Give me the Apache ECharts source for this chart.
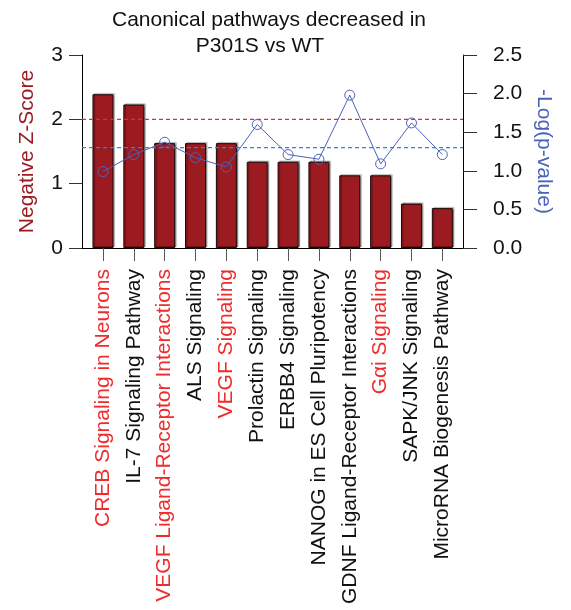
<!DOCTYPE html>
<html>
<head>
<meta charset="utf-8">
<script src="https://cdn.jsdelivr.net/npm/echarts@6/dist/echarts.min.js"></script>
<style>
  html, body { margin: 0; padding: 0; background: #fff; }
  #chart { width: 571px; height: 610px; }
</style>
</head>
<body>
<div id="chart"></div>
<script>
// Pathway names, in plotting order
const pathways = [
  'CREB Signaling in Neurons',
  'IL-7 Signaling Pathway',
  'VEGF Ligand-Receptor Interactions',
  'ALS Signaling',
  'VEGF Signaling',
  'Prolactin Signaling',
  'ERBB4 Signaling',
  'NANOG in ES Cell Pluripotency',
  'GDNF Ligand-Receptor Interactions',
  'G\u03b1i Signaling',
  'SAPK/JNK Signaling',
  'MicroRNA Biogenesis Pathway'
];
// Pathways highlighted in red on the axis
const highlighted = [
  'CREB Signaling in Neurons',
  'VEGF Ligand-Receptor Interactions',
  'VEGF Signaling',
  'G\u03b1i Signaling'
];
// Negative z-score (bars, left axis)
const zScores = [2.39, 2.23, 1.63, 1.63, 1.63, 1.34, 1.34, 1.34, 1.13, 1.13, 0.69, 0.62];
// -log(p-value) (line, right axis)
const logP = [0.99, 1.21, 1.37, 1.17, 1.05, 1.60, 1.21, 1.15, 1.98, 1.09, 1.62, 1.21];
// Reference thresholds
const zThreshold = 2;      // left axis
const pThreshold = 1.3;    // right axis, -log10(0.05)
// Axis ticks
const leftTicks = [0, 1, 2, 3];
const rightTicks = [0, 0.5, 1, 1.5, 2, 2.5];

const FONT = '"Liberation Sans", Arial, Helvetica, sans-serif';
const RED_LINE = '#f0282c';
const BLUE_LINE = '#1a8ce8';
const X_MIN = -0.68;
const X_MAX = 11.67;
const positions = pathways.map((_, i) => i);

const titleStyle = {
  fontFamily: FONT,
  fontSize: 21,
  fontWeight: 'normal',
  color: '#111'
};

// Horizontal dashed reference line spanning the whole plot
function thresholdSeries(value, axisIndex, color) {
  return {
    type: 'line',
    yAxisIndex: axisIndex,
    data: [[X_MIN, value], [X_MAX, value]],
    showSymbol: false,
    symbol: 'none',
    silent: true,
    lineStyle: { color: color, type: [4, 3], width: 1.4, opacity: 1 },
    z: 4
  };
}

const chart = echarts.init(document.getElementById('chart'), null, { renderer: 'canvas' });

chart.setOption({
  backgroundColor: '#ffffff',
  animation: false,
  title: [
    { text: 'Canonical pathways decreased in', left: 264, top: 5, textAlign: 'center', textStyle: titleStyle },
    { text: 'P301S vs WT', left: 255, top: 31, textAlign: 'center', textStyle: titleStyle }
  ],
  grid: { left: 82, right: 108, top: 55, bottom: 362 },
  xAxis: {
    type: 'value',
    min: X_MIN,
    max: X_MAX,
    splitLine: { show: false },
    axisLine: { show: true, onZero: false, lineStyle: { color: '#000', width: 1 } },
    axisTick: {
      show: true,
      customValues: positions,
      length: 13,
      lineStyle: { color: '#555', width: 1 }
    },
    axisLabel: {
      customValues: positions,
      rotate: 90,
      margin: 21,
      fontFamily: FONT,
      fontSize: 21,
      formatter: function (v) {
        const name = pathways[Math.round(v)];
        return highlighted.indexOf(name) >= 0 ? '{r|' + name + '}' : '{k|' + name + '}';
      },
      rich: {
        r: { color: '#f02b2b', fontFamily: FONT, fontSize: 21 },
        k: { color: '#111', fontFamily: FONT, fontSize: 21 }
      }
    }
  },
  yAxis: [
    {
      type: 'value',
      min: 0,
      max: 3,
      interval: 1,
      name: 'Negative Z-Score',
      nameLocation: 'middle',
      nameGap: 44,
      nameTextStyle: { fontFamily: FONT, fontSize: 21, color: '#9a1c22' },
      splitLine: { show: false },
      axisLine: { show: true, onZero: false, lineStyle: { color: '#000', width: 1 } },
      axisTick: { show: true, length: 13, lineStyle: { color: '#333' } },
      axisLabel: {
        margin: 19,
        fontFamily: FONT,
        fontSize: 21,
        color: '#111',
        customValues: leftTicks
      }
    },
    {
      type: 'value',
      min: 0,
      max: 2.5,
      interval: 0.5,
      position: 'right',
      name: '-Log(p-value)',
      nameLocation: 'middle',
      nameRotate: -90,
      nameGap: 68,
      nameTextStyle: { fontFamily: FONT, fontSize: 21, color: '#4a62b8' },
      splitLine: { show: false },
      axisLine: { show: true, onZero: false, lineStyle: { color: '#000', width: 1 } },
      axisTick: { show: true, length: 14, lineStyle: { color: '#333' } },
      axisLabel: {
        margin: 30,
        fontFamily: FONT,
        fontSize: 21,
        color: '#111',
        customValues: rightTicks,
        formatter: v => v.toFixed(1)
      }
    }
  ],
  series: [
    {
      name: 'Negative Z-Score',
      type: 'bar',
      yAxisIndex: 0,
      barWidth: 21,
      data: zScores.map((v, i) => [i, v]),
      itemStyle: {
        color: '#9b1b21',
        borderColor: '#1a0506',
        borderWidth: 1,
        shadowColor: 'rgba(0,0,0,0.35)',
        shadowBlur: 1,
        shadowOffsetX: 1.5,
        shadowOffsetY: -1
      },
      z: 2
    },
    thresholdSeries(zThreshold, 0, RED_LINE),
    thresholdSeries(pThreshold, 1, BLUE_LINE),
    {
      name: '-Log(p-value)',
      type: 'line',
      yAxisIndex: 1,
      data: logP.map((v, i) => [i, v]),
      symbol: 'circle',
      symbolSize: 10,
      lineStyle: { color: '#4a62b8', width: 1 },
      itemStyle: { color: 'rgba(255,255,255,0)', borderColor: '#4a62b8', borderWidth: 1 },
      z: 5
    }
  ]
});
</script>
</body>
</html>
